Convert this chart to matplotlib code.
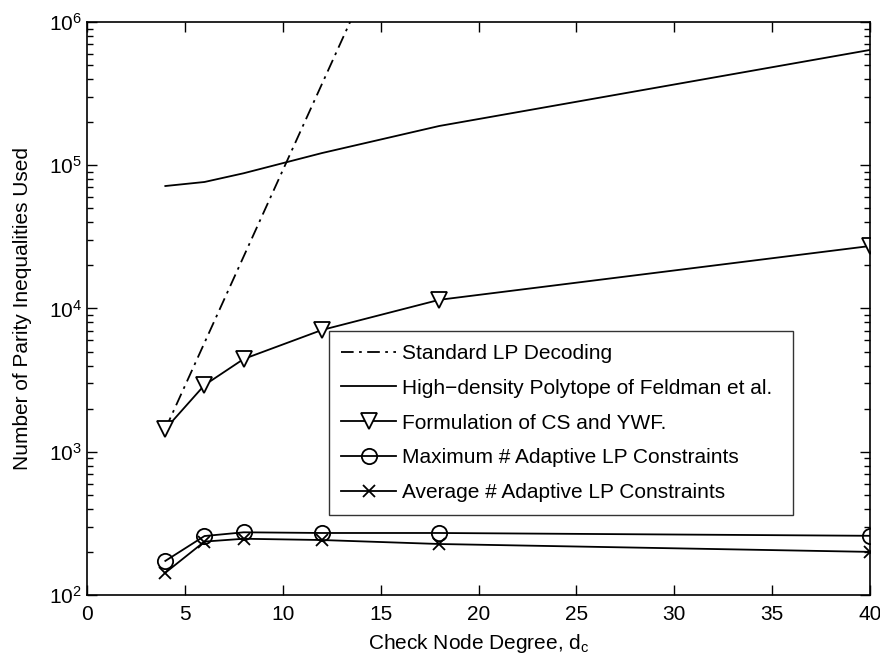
import matplotlib.pyplot as plt
from matplotlib.ticker import LogLocator, NullFormatter

plt.rcParams["font.family"] = ["Liberation Sans", "DejaVu Sans"]
plt.rcParams["mathtext.fontset"] = "custom"
plt.rcParams["mathtext.rm"] = "Liberation Sans"
plt.rcParams["mathtext.it"] = "Liberation Sans"

# --- check node degrees and constraint counts ---
dc_standard = [4, 6, 8, 10, 12, 14]
standard_lp = [1440, 5760, 23040, 92160, 368640, 1474560]

dc = [4, 6, 8, 12, 18, 40]
feldman = [71600, 76400, 87900, 121600, 188000, 638000]
cs_ywf = [1440, 2920, 4440, 7080, 11500, 27300]
adaptive_max = [173, 258, 274, 271, 271, 259]
adaptive_avg = [143, 236, 247, 242, 227, 200]

fig = plt.figure(figsize=(8.8, 6.64), dpi=100)
ax = fig.add_axes([0.0989, 0.1039, 0.8897, 0.863])

lw = 1.3
ax.plot(dc_standard, standard_lp, color="black", linestyle=(0, (7, 3, 1.5, 3)),
        linewidth=lw, label="Standard LP Decoding")
ax.plot(dc, feldman, color="black", linestyle="-", linewidth=lw,
        label="High\u2212density Polytope of Feldman et al.")
ax.plot(dc, cs_ywf, color="black", linewidth=lw, marker="v", markersize=11,
        markerfacecolor="white", markeredgewidth=1.3,
        label="Formulation of CS and YWF.")
ax.plot(dc, adaptive_max, color="black", linewidth=lw, marker="o", markersize=11,
        markerfacecolor="none", markeredgewidth=1.3,
        label="Maximum # Adaptive LP Constraints")
ax.plot(dc, adaptive_avg, color="black", linewidth=lw, marker="x", markersize=8,
        markeredgewidth=1.3, label="Average # Adaptive LP Constraints")

ax.set_yscale("log")
ax.set_xlim(0, 40)
ax.set_ylim(1e2, 1e6)
ax.set_xticks(range(0, 41, 5))
ax.yaxis.set_major_locator(LogLocator(base=10, numticks=10))
ax.yaxis.set_minor_locator(LogLocator(base=10, subs=range(2, 10), numticks=10))
ax.yaxis.set_minor_formatter(NullFormatter())

ax.tick_params(which="both", direction="in", top=True, right=True,
               labelsize=15, width=1.0)
ax.tick_params(axis="x", pad=7)
ax.tick_params(which="major", length=7)
ax.tick_params(which="minor", length=4)
for sp in ax.spines.values():
    sp.set_linewidth(1.2)

ax.set_xlabel("Check Node Degree, d$_\\mathregular{c}$", fontsize=15, labelpad=6)
ax.set_ylabel("Number of Parity Inequalities Used", fontsize=15, labelpad=12)

leg = ax.legend(loc="lower left", bbox_to_anchor=(0.309, 0.14, 0.593, 0.317),
                mode="expand", fontsize=15, frameon=True, fancybox=False,
                edgecolor="black", handlelength=2.6, handletextpad=0.3,
                borderpad=0.6, labelspacing=0.76, borderaxespad=0)
leg.get_frame().set_linewidth(1.0)

fig.savefig("out.png", dpi=100)
